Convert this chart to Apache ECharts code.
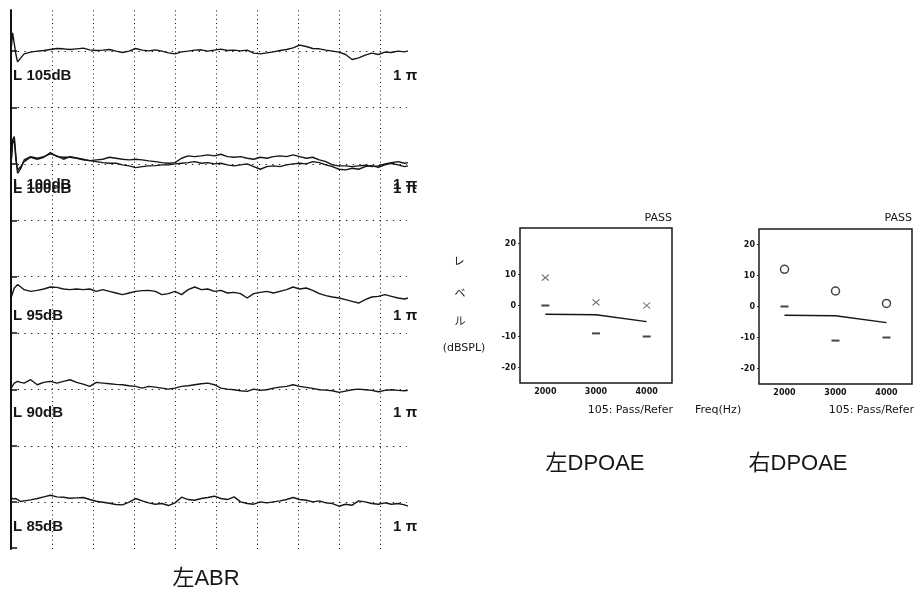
<!DOCTYPE html>
<html>
<head>
<meta charset="utf-8">
<script src="https://cdn.jsdelivr.net/npm/echarts@6/dist/echarts.min.js"></script>
<style>
  html, body { margin: 0; padding: 0; background: #fff; }
  #c { width: 915px; height: 592px; }
</style>
</head>
<body>
<div id="c"></div>
<script>
// ---------- ABR recordings (left ear) ----------
// sample times in ms: a finer step around the stimulus onset, then 0.16 ms
const onsetMs = [0, 0.04, 0.08, 0.12, 0.16, 0.24];
const sampleStepMs = 0.16;
const timeMs = onsetMs.concat(
  Array.from({ length: 59 }, (_, i) => +(0.32 + i * sampleStepMs).toFixed(2)),
  [9.68]
);

const abrLevels = ['L 105dB', 'L 100dB', 'L 95dB', 'L 90dB', 'L 85dB'];
const scaleLabel = '1 π';

// amplitudes in display counts
const abr105 = [0, 55, 60, -10, -32, -20, -8, -3, 0, 2, 5, 8, 7, 5, 7, 9, 4, 2, 3, 5,
  0, -4, 0, 8, 3, 1, 4, 0, -5, -8, -2, 0, 3, 4, 0, 3, 6, 2, 3, 1,
  3, -6, -8, -5, -2, 2, 5, 10, 18, 14, 8, 7, 3, 0, -3, -10, -25, -20, -12, -6,
  -10, -3, -4, 0, -2, 1];
const abr100a = [0, 72, 82, 22, -28, -13, 12, 22, 17, 22, 30, 24, 14, 22, 18, 14, 10, 12, 14, 20,
  17, 14, 12, 14, 12, 9, 7, 4, 2, 4, 17, 24, 22, 24, 27, 24, 29, 22, 20, 22,
  17, 14, 20, 17, 22, 24, 22, 27, 22, 17, 20, 12, 7, -3, -6, -6, -8, -6, -4, -8,
  -6, 0, 4, 7, 2, 4];
const abr100b = [0, 62, 72, 12, -18, -8, 7, 20, 14, 20, 34, 22, 20, 20, 17, 12, 10, 7, 4, 2,
  2, -3, -6, -11, -8, -6, -5, -3, -3, 0, 2, 4, 7, 2, 4, 0, 2, -3, -6, -3,
  0, -8, -16, -8, -6, -8, -3, 0, 2, 0, 7, 4, -3, -8, -16, -18, -13, -16, -8, -5,
  -10, -3, 2, -3, -8, -6];
const abr95 = [-20, -5, 10, 15, 20, 13, 5, 0, 3, 7, 13, 12, 7, 5, 7, 5, 7, 0, 5, 0,
  -5, -10, -5, 0, 2, 3, 0, -10, -7, 0, -10, 5, 13, 5, 7, 0, 3, -5, -3, -7,
  -20, -7, -3, 0, -5, 0, 5, 13, 7, 10, 3, -7, -13, -17, -20, -25, -30, -35, -25, -17,
  -15, -10, -15, -20, -23, -20];
const abr90 = [-1, 6, 14, 18, 19, 16, 14, 24, 9, 16, 19, 14, 19, 24, 16, 11, 4, 16, 14, 12,
  10, 9, 6, 4, -1, 4, 2, -1, -4, -1, 4, 6, 9, 12, 14, 9, -1, -4, -6, -9,
  -11, -4, -8, -6, -1, 2, 4, 9, 4, 1, -2, -6, -7, -9, -14, -10, -6, -4, -6, -8,
  -12, -8, -6, -8, -9, -8];
const abr85 = [16, 10, 8, 11, 8, 2, 4, 7, 11, 16, 21, 16, 15, 12, 13, 14, 8, 3, 0, -3,
  -7, -8, 0, 11, 4, -2, -6, -4, -10, -2, 15, 8, 6, 11, 14, 18, 11, 8, 16, 1,
  -4, -6, 1, -2, 1, 4, 8, 14, 8, 6, 1, 4, -2, -4, -12, -6, -9, 4, 1, -4,
  -6, -2, -6, -4, -8, -12];

// ---------- DPOAE ----------
const dpFreq = [2000, 3000, 4000];
const dpLeft = [9, 1, 0];
const noiseLeft = [0, -9, -10];
const dpRight = [12, 5, 1];
const noiseRight = [0, -11, -10];
const passLine = [-2.8, -3.0, -5.2];
const dpYTicks = [-20, -10, 0, 10, 20];

// ---------- layout ----------
const COUNTS_PER_DIV = 169;          // amplitude counts per grid division
const ROW_BASE = [8, 6, 3.74, 2.03, 0]; // baseline of each level, in divisions
const Y_MIN = -0.83, Y_MAX = 8.73;
const GRID_END_MS = 9.66;
const INK = '#161616';

const traces = [
  { amp: abr105, row: 0 },
  { amp: abr100a, row: 1 },
  { amp: abr100b, row: 1 },
  { amp: abr95, row: 2 },
  { amp: abr90, row: 3 },
  { amp: abr85, row: 4 }
];

const traceSeries = traces.map(tr => ({
  type: 'line',
  xAxisIndex: 0, yAxisIndex: 0,
  symbol: 'none', silent: true, animation: false,
  lineStyle: { color: INK, width: 1.4 },
  data: tr.amp.map((a, i) => [timeMs[i], ROW_BASE[tr.row] + a / COUNTS_PER_DIV])
}));

// dotted grid, built as mark lines on the ABR axes
const vDot = { type: [1, 3.2], color: '#111', width: 1 };
const hDot = { type: [1.3, 5.4], color: '#111', width: 1 };
const tickStyle = { type: 'solid', color: '#111', width: 1.5 };
const gridLines = [];
for (let t = 1; t <= 9; t++) {
  gridLines.push([{ coord: [t, Y_MIN], lineStyle: vDot }, { coord: [t, Y_MAX] }]);
}
for (let v = 0; v <= 8; v++) {
  gridLines.push([{ coord: [0, v], lineStyle: hDot }, { coord: [GRID_END_MS, v] }]);
  gridLines.push([{ coord: [0, v], lineStyle: tickStyle }, { coord: [0.15, v] }]);
}
gridLines.push([{ coord: [0, Y_MIN + 0.03], lineStyle: tickStyle }, { coord: [0.15, Y_MIN + 0.03] }]);

const gridSeries = {
  type: 'line', xAxisIndex: 0, yAxisIndex: 0, silent: true, animation: false,
  symbol: 'none', data: [],
  markLine: {
    silent: true, animation: false, symbol: ['none', 'none'],
    label: { show: false }, emphasis: { disabled: true },
    data: gridLines
  }
};

// DPOAE panels
const tickFont = { color: INK, fontSize: 8, fontWeight: 'bold', fontFamily: '"DejaVu Sans", sans-serif', formatter: v => String(v) };
function dpAxes(idx) {
  return {
    x: {
      gridIndex: idx, type: 'value', min: 1500, max: 4500,
      axisLine: { show: false }, axisTick: { show: false }, splitLine: { show: false },
      axisLabel: Object.assign({ customValues: dpFreq, margin: 5 }, tickFont)
    },
    y: {
      gridIndex: idx, type: 'value', min: -25, max: 25,
      axisLine: { show: false }, splitLine: { show: false },
      axisTick: { show: true, customValues: dpYTicks, length: 2, lineStyle: { color: '#333' } },
      axisLabel: Object.assign({ customValues: dpYTicks, margin: 4 }, tickFont)
    }
  };
}
const dpA = dpAxes(1), dpB = dpAxes(2);

function dpSeries(axisIdx, dp, noise, marker) {
  const dpMark = marker === 'cross'
    ? { symbol: 'path://M0,0L10,10M10,0L0,10', symbolSize: [7, 6],
        itemStyle: { color: 'transparent', borderColor: '#4a4a4a', borderWidth: 1.1 } }
    : { symbol: 'circle', symbolSize: 8,
        itemStyle: { color: '#fff', borderColor: INK, borderWidth: 1.5 } };
  return [
    Object.assign({
      type: 'scatter', xAxisIndex: axisIdx, yAxisIndex: axisIdx, silent: true, animation: false,
      data: dpFreq.map((f, i) => [f, dp[i]])
    }, dpMark),
    {
      type: 'scatter', xAxisIndex: axisIdx, yAxisIndex: axisIdx, silent: true, animation: false,
      symbol: 'rect', symbolSize: [8, 2], itemStyle: { color: INK },
      data: dpFreq.map((f, i) => [f, noise[i]])
    },
    {
      type: 'line', xAxisIndex: axisIdx, yAxisIndex: axisIdx, silent: true, animation: false,
      symbol: 'none', lineStyle: { color: INK, width: 1.5 },
      data: dpFreq.map((f, i) => [f, passLine[i]])
    }
  ];
}

function txt(x, y, text, font, align) {
  return {
    type: 'text', x: x, y: y, silent: true,
    style: {
      text: text, font: font, fill: INK,
      textAlign: align || 'left', align: align || 'left',
      textVerticalAlign: 'middle', verticalAlign: 'middle'
    }
  };
}
const small = '11px "DejaVu Sans", sans-serif';
const kana = '11px "Noto Sans CJK JP", sans-serif';
const caption = '22px "Liberation Sans", "Noto Sans CJK JP", sans-serif';
const levelFont = 'bold 15px "Liberation Sans", Arial, sans-serif';

const option = {
  backgroundColor: '#fff',
  animation: false,
  grid: [
    { left: 11, top: 10, width: 410, height: 539 },
    { left: 520, top: 228, width: 152, height: 155, show: true, borderColor: '#1a1a1a', borderWidth: 1.5, backgroundColor: 'transparent' },
    { left: 759, top: 229, width: 153, height: 155, show: true, borderColor: '#1a1a1a', borderWidth: 1.5, backgroundColor: 'transparent' }
  ],
  xAxis: [
    { gridIndex: 0, type: 'value', min: 0, max: 10, show: false },
    dpA.x, dpB.x
  ],
  yAxis: [
    {
      gridIndex: 0, type: 'value', min: Y_MIN, max: Y_MAX,
      axisLine: { show: true, onZero: false, lineStyle: { color: '#111', width: 2 } },
      axisTick: { show: false }, axisLabel: { show: false }, splitLine: { show: false }
    },
    dpA.y, dpB.y
  ],
  series: [gridSeries].concat(traceSeries,
    dpSeries(1, dpLeft, noiseLeft, 'cross'),
    dpSeries(2, dpRight, noiseRight, 'circle')),
  graphic: [
    txt(672, 218, 'PASS', small, 'right'),
    txt(912, 218, 'PASS', small, 'right'),
    txt(459, 261, 'レ', kana, 'center'),
    txt(460, 293, 'ベ', kana, 'center'),
    txt(460, 321, 'ル', kana, 'center'),
    txt(464, 348, '(dBSPL)', small, 'center'),
    txt(673, 410, '105: Pass/Refer', small, 'right'),
    txt(914, 410, '105: Pass/Refer', small, 'right'),
    txt(695, 410, 'Freq(Hz)', small, 'left'),
    txt(595, 464, '左DPOAE', caption, 'center'),
    txt(798, 464, '右DPOAE', caption, 'center'),
    txt(206, 579, '左ABR', caption, 'center')
  ]
};

const chart = echarts.init(document.getElementById('c'), null, { renderer: 'canvas' });
chart.setOption(option);

// level labels under each trace, placed through the ABR axes
const levelText = [];
abrLevels.forEach((lab, r) => {
  const y = ROW_BASE[r] - 0.44;
  const rows = r === 1 ? [y, y + 0.07] : [y]; // two overlapping runs at 100 dB
  rows.forEach(yy => {
    const pL = chart.convertToPixel({ gridIndex: 0 }, [0.05, yy]);
    const pR = chart.convertToPixel({ gridIndex: 0 }, [9.32, yy]);
    levelText.push(txt(pL[0], pL[1], lab, levelFont, 'left'));
    levelText.push(txt(pR[0], pR[1], scaleLabel, levelFont, 'left'));
  });
});
chart.setOption({ graphic: option.graphic.concat(levelText) });
</script>
</body>
</html>
